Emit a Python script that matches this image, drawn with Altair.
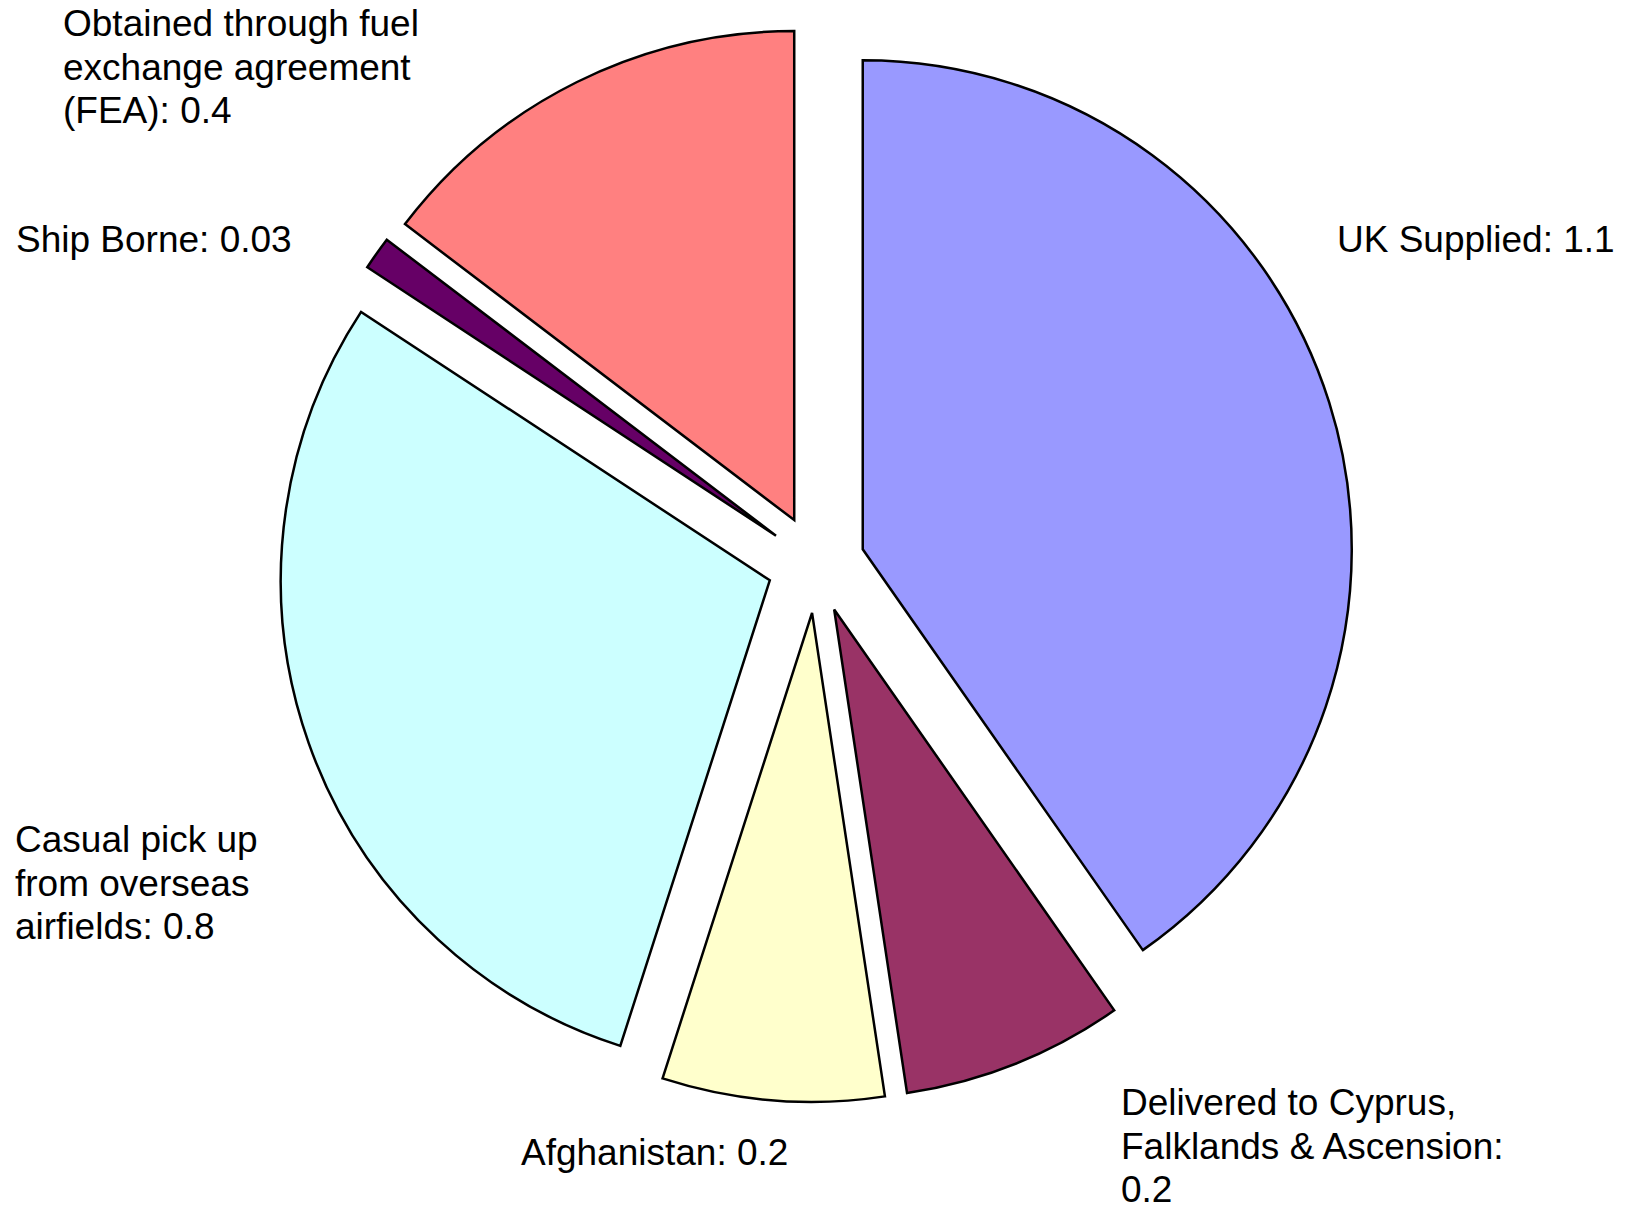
import altair as alt
import pandas as pd

# ---- data ----
categories = [
    "UK Supplied",
    "Delivered to Cyprus, Falklands & Ascension",
    "Afghanistan",
    "Casual pick up from overseas airfields",
    "Ship Borne",
    "Obtained through fuel exchange agreement (FEA)",
]
values = [1.1, 0.2, 0.2, 0.8, 0.03, 0.4]
colors = ["#9999FF", "#993366", "#FFFFCC", "#CCFFFF", "#660066", "#FF8080"]

# label text (line-wrapped as in the original)
label_texts = [
    "UK Supplied: 1.1",
    "Delivered to Cyprus,\nFalklands & Ascension:\n0.2",
    "Afghanistan: 0.2",
    "Casual pick up\nfrom overseas\nairfields: 0.8",
    "Ship Borne: 0.03",
    "Obtained through fuel\nexchange agreement\n(FEA): 0.4",
]

# ---- layout (pixels inside the plot area) ----
W, H = 1610, 1196
CX, CY = 808, 556
R = 489
EXPLODE = 49
label_x = [1329, 1113, 513, 7, 8, 55]
label_y = [244, 1107, 1157, 844, 244, 28]

df = pd.DataFrame({
    "cat": categories,
    "value": values,
    "order": list(range(len(categories))),
})
lab = pd.DataFrame({"text": label_texts, "lx": label_x, "ly": label_y})

pie = (
    alt.Chart(df)
    .transform_joinaggregate(total="sum(value)")
    .transform_window(cum="sum(value)", sort=[alt.SortField("order")], frame=[None, 0])
    .transform_calculate(
        t2="datum.cum / datum.total * 2 * PI",
        t1="(datum.cum - datum.value) / datum.total * 2 * PI",
    )
    .transform_calculate(mid="(datum.t1 + datum.t2) / 2")
    .transform_calculate(
        px=f"{CX} + {EXPLODE} * sin(datum.mid)",
        py=f"{CY} - {EXPLODE} * cos(datum.mid)",
    )
    .mark_arc(radius=R, stroke="black", strokeWidth=2.5, strokeJoin="miter")
    .encode(
        theta=alt.Theta("t1:Q", scale=None),
        theta2=alt.Theta2("t2:Q"),
        x=alt.X("px:Q", scale=None, axis=None),
        y=alt.Y("py:Q", scale=None, axis=None),
        color=alt.Color("cat:N", scale=alt.Scale(domain=categories, range=colors), legend=None),
        order=alt.Order("order:Q"),
    )
)

labels = (
    alt.Chart(lab)
    .mark_text(
        align="left",
        baseline="alphabetic",
        font="Liberation Sans",
        fontSize=37,
        lineHeight=43.5,
        lineBreak="\n",
        color="black",
    )
    .encode(
        x=alt.X("lx:Q", scale=None, axis=None),
        y=alt.Y("ly:Q", scale=None, axis=None),
        text="text:N",
    )
)

chart = (
    alt.layer(pie, labels)
    .properties(width=W, height=H, padding=0, autosize="none")
    .configure_view(stroke=None)
)

chart.save("out.html", embed_options={"renderer": "svg", "actions": False})
